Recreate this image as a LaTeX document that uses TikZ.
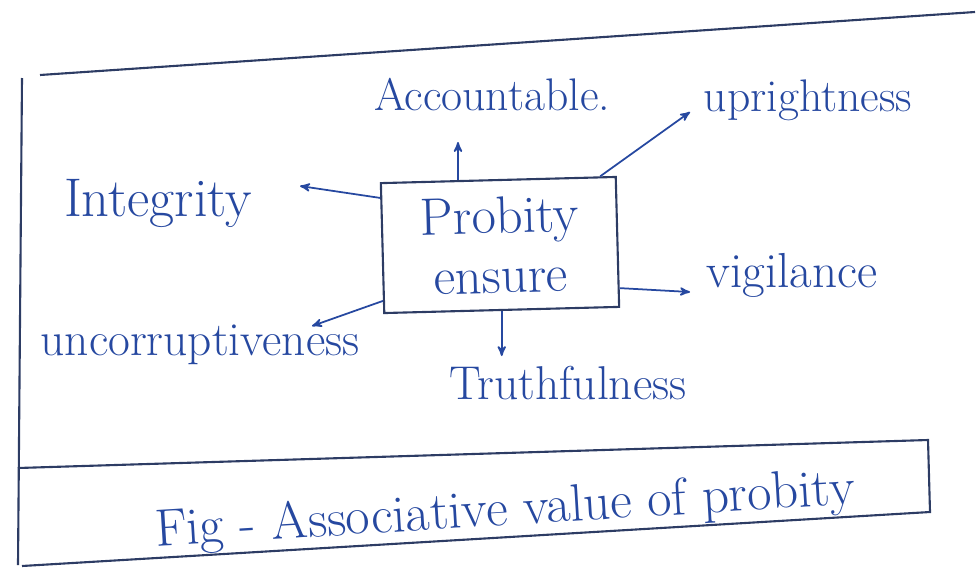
\documentclass[tikz,border=0pt]{standalone}
\usepackage{tikz}
\usetikzlibrary{calc,arrows,shapes}
\definecolor{ink}{RGB}{38,72,160}
\definecolor{pencil}{RGB}{45,60,100}
\tikzstyle{w}=[text=ink, font=\fontsize{26}{28}\selectfont, inner sep=1mm]

\begin{document}
\begin{tikzpicture}[x=0.02cm,y=-0.02cm]
\useasboundingbox (0,0) rectangle (979,575);
%\draw[help lines,step=50] (0,0) grid (979,575);
\tikzstyle{box}=[rectangle,draw=pencil,line width=1.2pt,text=ink,font=\fontsize{30}{34}\selectfont,align=center,minimum width=4.7cm,minimum height=2.6cm,rotate=1.5]
\tikzstyle{a}=[draw=ink,line width=1pt,->,>=stealth']

% frame and caption strip
\draw[pencil,line width=1.2pt] (40,75) -- (975,12);
\draw[pencil,line width=1.2pt] (22,78) -- (18,565);
\draw[pencil,line width=1.2pt] (18,468) -- (928,440) -- (930,512) -- (22,566);

\node[box] (p) at (500,245) {Probity\\ensure};

\node[w] (acc) at (492,95) {Accountable.};
\node[w] (upr) at (808,100) {uprightness};
\node[w,font=\fontsize{31}{33}\selectfont] (int) at (158,203) {Integrity};
\node[w,font=\fontsize{28}{30}\selectfont] (vig) at (792,275) {vigilance};
\node[w,font=\fontsize{27}{29}\selectfont] (unc) at (200,345) {uncorruptiveness};
\node[w,font=\fontsize{27}{29}\selectfont] (tru) at (568,383) {Truthfulness};
\node[w,rotate=3.5,font=\fontsize{30}{32}\selectfont] (fig) at (505,512) {Fig - Associative value of probity};

\path ($(p.north west)!0.33!(p.north east)$) edge[a] +(0,-38);
\path ($(p.north west)!0.93!(p.north east)$) edge[a] (690,112);
\path ($(p.north west)!0.12!(p.south west)$) edge[a] (300,186);
\path ($(p.north east)!0.85!(p.south east)$) edge[a] (690,292);
\path ($(p.south west)!0.5!(p.south east)$) edge[a] +(0,45);
\path ($(p.north west)!0.9!(p.south west)$) edge[a] (312,326);
\end{tikzpicture}
\end{document}
